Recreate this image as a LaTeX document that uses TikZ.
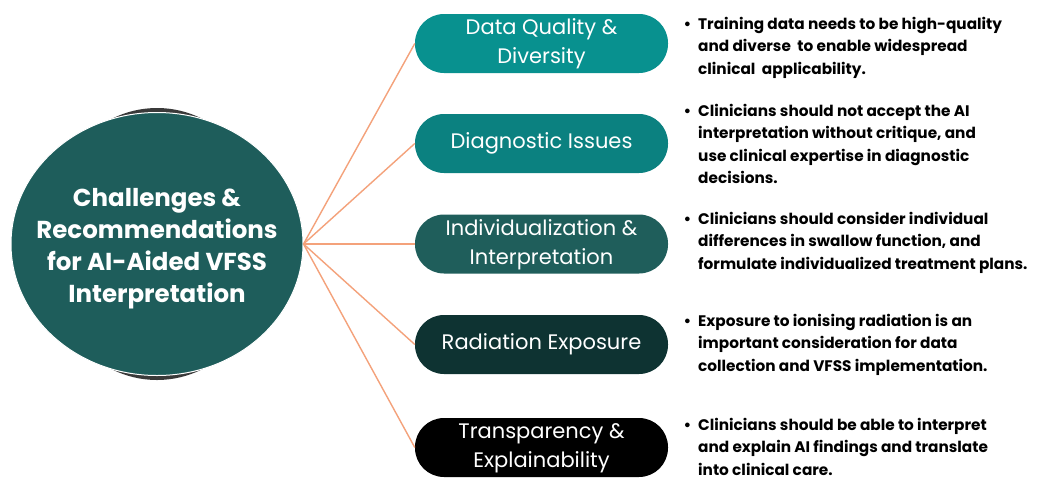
\documentclass[tikz,border=0pt]{standalone}
\usepackage{fontspec}
\setmainfont{Poppins}
\usetikzlibrary{shapes, positioning}

\definecolor{circteal}{HTML}{1E5D5B}
\definecolor{shadowgray}{HTML}{3A3A3A}
\definecolor{linkorange}{HTML}{F4A27B}
\definecolor{tealA}{HTML}{08918F}
\definecolor{tealB}{HTML}{0B8180}
\definecolor{tealC}{HTML}{1F5E5B}
\definecolor{tealD}{HTML}{0E3332}

\newcommand{\twolines}[2]{\raisebox{-3pt}{\begin{tabular}{@{}c@{}}#1\\#2\end{tabular}}}

\begin{document}
\begin{tikzpicture}[x=1pt, y=-1pt,
	pill/.style={rectangle, rounded corners=29pt, minimum width=253pt, minimum height=59pt, inner sep=0pt, text=white, align=center, font=\fontsize{21}{29}\selectfont},
	note/.style={anchor=north west, inner sep=0pt, align=left, font=\fontsize{15.3}{22.5}\selectfont\bfseries}]
	\useasboundingbox (0,0) rectangle (1038,477);
	\fill[white] (0,0) rectangle (1038,477);

	% central topic
	\fill[shadowgray] (157,244) ellipse [x radius=116, y radius=136];
	\node (topic) [ellipse, fill=circteal, draw=white, line width=1pt, minimum width=292pt, minimum height=263pt, inner sep=0pt] at (157,244) {};
	\node (topictext) [text=white, align=center, font=\fontsize{24.5}{32}\selectfont\bfseries] at (157,249) {Challenges \&\\Recommendations\\for AI-Aided VFSS\\Interpretation};

	% the five issues
	\node (quality) [pill, fill=tealA] at (541.5,43.5) {\twolines{Data Quality \&}{Diversity}};
	\node (diag) [pill, fill=tealB] at (541.5,143.5) {Diagnostic Issues};
	\node (indiv) [pill, fill=tealC] at (541.5,244) {\twolines{Individualization \&}{Interpretation}};
	\node (radiation) [pill, fill=tealD] at (541.5,344.5) {Radiation Exposure};
	\node (transp) [pill, fill=black] at (541.5,447.5) {\twolines{Transparency \&}{Explainability}};

	\path[linkorange, line width=1.4pt] (topic.east) edge (quality.west)
	(topic.east) edge (diag.west)
	(topic.east) edge (indiv.west)
	(topic.east) edge (radiation.west)
	(topic.east) edge (transp.west);

	% recommendations
	\node (tquality) [note] at (698,17) {\llap{\textbullet\hspace{7pt}}Training data needs to be high-quality\\and diverse\ \ to enable widespread\\clinical\ \ applicability.};
	\node (tdiag) [note] at (698,104) {\llap{\textbullet\hspace{7pt}}Clinicians should not accept the AI\\interpretation without critique, and\\use clinical expertise in diagnostic\\decisions.};
	\node (tindiv) [note] at (698,212) {\llap{\textbullet\hspace{7pt}}Clinicians should consider individual\\differences in swallow function, and\\formulate individualized treatment plans.};
	\node (tradiation) [note] at (698,314) {\llap{\textbullet\hspace{7pt}}Exposure to ionising radiation is an\\important consideration for data\\collection and VFSS implementation.};
	\node (ttransp) [note] at (698,418) {\llap{\textbullet\hspace{7pt}}Clinicians should be able to interpret\\and explain AI findings and translate\\into clinical care.};
\end{tikzpicture}
\end{document}
